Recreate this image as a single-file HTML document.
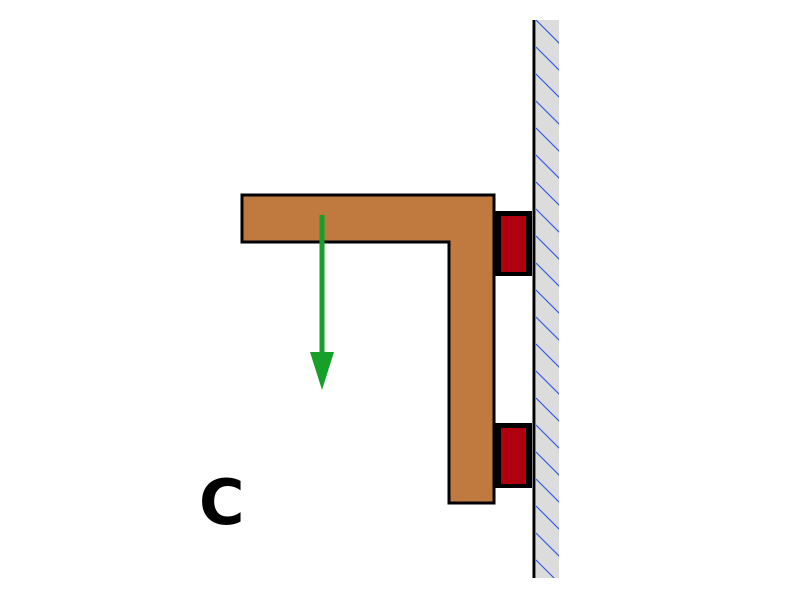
<!DOCTYPE html>
<html><head><style>body{margin:0;background:#fff}</style></head><body>
<svg width="800" height="600" xmlns="http://www.w3.org/2000/svg">
<defs><clipPath id="w"><rect x="536" y="20" width="23" height="558"/></clipPath></defs>
<rect x="536" y="20" width="23" height="558" fill="#dcdcdc"/>
<g clip-path="url(#w)" stroke="#3a5fe0" stroke-width="1.2">
<path d="M536,20 l30,30 M536,47 l30,30 M536,74 l30,30 M536,101 l30,30 M536,128 l30,30 M536,155 l30,30 M536,182 l30,30 M536,209 l30,30 M536,236 l30,30 M536,263 l30,30 M536,290 l30,30 M536,317 l30,30 M536,344 l30,30 M536,371 l30,30 M536,398 l30,30 M536,425 l30,30 M536,452 l30,30 M536,479 l30,30 M536,506 l30,30 M536,533 l30,30 M536,560 l30,30"/>
</g>
<line x1="534" y1="20" x2="534" y2="578" stroke="#000" stroke-width="3"/>
<rect x="493" y="211" width="39" height="65" fill="#000"/>
<rect x="501" y="216" width="25" height="56" fill="#b0000f"/>
<rect x="493" y="423" width="39" height="65" fill="#000"/>
<rect x="501" y="428" width="25" height="56" fill="#b0000f"/>
<path d="M242,195 H494 V503 H449 V242 H242 Z" fill="#c07a40" stroke="#000" stroke-width="3"/>
<line x1="322" y1="215" x2="322" y2="360" stroke="#16a02a" stroke-width="5"/>
<path d="M310,352 L334,352 L322,390 Z" fill="#16a02a"/>
<text x="199" y="524" font-family="DejaVu Sans, Liberation Sans, sans-serif" font-weight="bold" font-size="62">C</text>
</svg>
</body></html>
